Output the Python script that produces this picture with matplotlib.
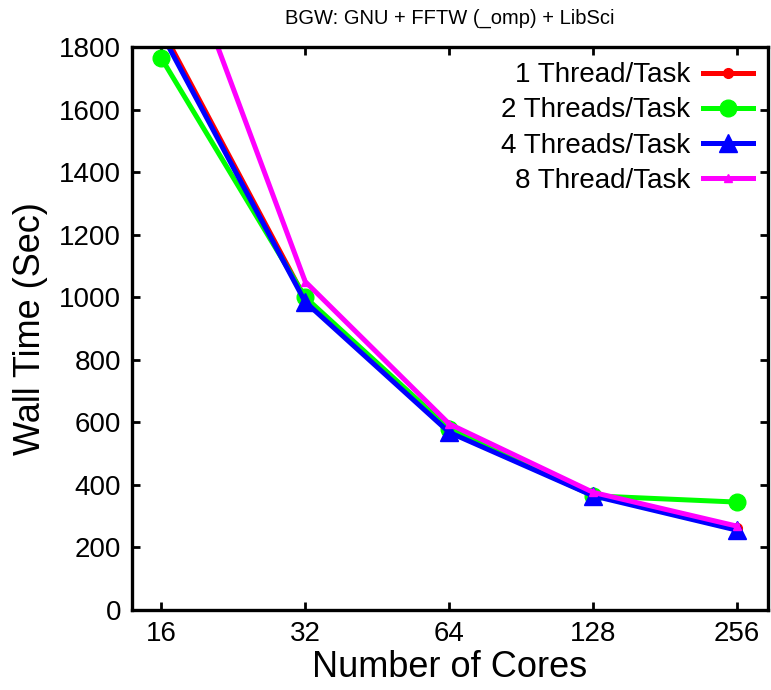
import matplotlib
matplotlib.use("Agg")
import matplotlib.pyplot as plt
from matplotlib.ticker import FixedLocator, NullLocator

plt.rcParams['font.family'] = ['Liberation Sans', 'DejaVu Sans']

cores = [16, 32, 64, 128, 256]
tick_labels = ["16", "32", "64", "128", "256"]
t1 = [1860, 995, 575, 370, 262]
t2 = [1765, 1000, 580, 365, 345]
t4 = [1845, 985, 568, 365, 255]
t8 = [2285, 1050, 595, 376, 268]
labels = ["1 Thread/Task", "2 Threads/Task", "4 Threads/Task", "8 Thread/Task"]
yticks = [0, 200, 400, 600, 800, 1000, 1200, 1400, 1600, 1800]

fig = plt.figure(figsize=(7.71, 6.90), dpi=100)
ax = fig.add_axes([132/771, 1 - 610/690, (768 - 132)/771, (610 - 47)/690])

lw = 3.6
ax.plot(cores, t1, color='#ff0000', lw=lw, marker='o', ms=7, label=labels[0])
ax.plot(cores, t2, color='#00ff00', lw=lw, marker='o', ms=12, label=labels[1])
ax.plot(cores, t4, color='#0000ff', lw=lw, marker='^', ms=13, label=labels[2])
ax.plot(cores, t8, color='#ff00ff', lw=lw, marker='^', ms=6, label=labels[3])

ax.set_xscale('log', base=2)
ax.set_xlim(13.9, 297)
ax.set_ylim(0, 1800)
ax.xaxis.set_major_locator(FixedLocator(cores))
ax.xaxis.set_minor_locator(NullLocator())
ax.set_xticklabels(tick_labels)
ax.set_yticks(yticks)

for s in ax.spines.values():
    s.set_linewidth(2.4)
ax.tick_params(direction='in', length=6, width=2, top=True, right=True,
               labelsize=20, pad=8)

ax.set_xlabel("Number of Cores", fontsize=26, labelpad=2)
ax.set_ylabel("Wall Time (Sec)", fontsize=26, labelpad=8)
fig.text(450/771, 1 - 18/690, "BGW: GNU + FFTW (_omp) + LibSci",
         ha='center', va='center', fontsize=14.5)

leg = ax.legend(loc='upper right', frameon=False, markerfirst=False,
                fontsize=20, handlelength=1.8, labelspacing=0.33,
                borderaxespad=0.15, handletextpad=0.45)
for t in leg.get_texts():
    t.set_ha('right')

fig.savefig("out.png", dpi=100)
